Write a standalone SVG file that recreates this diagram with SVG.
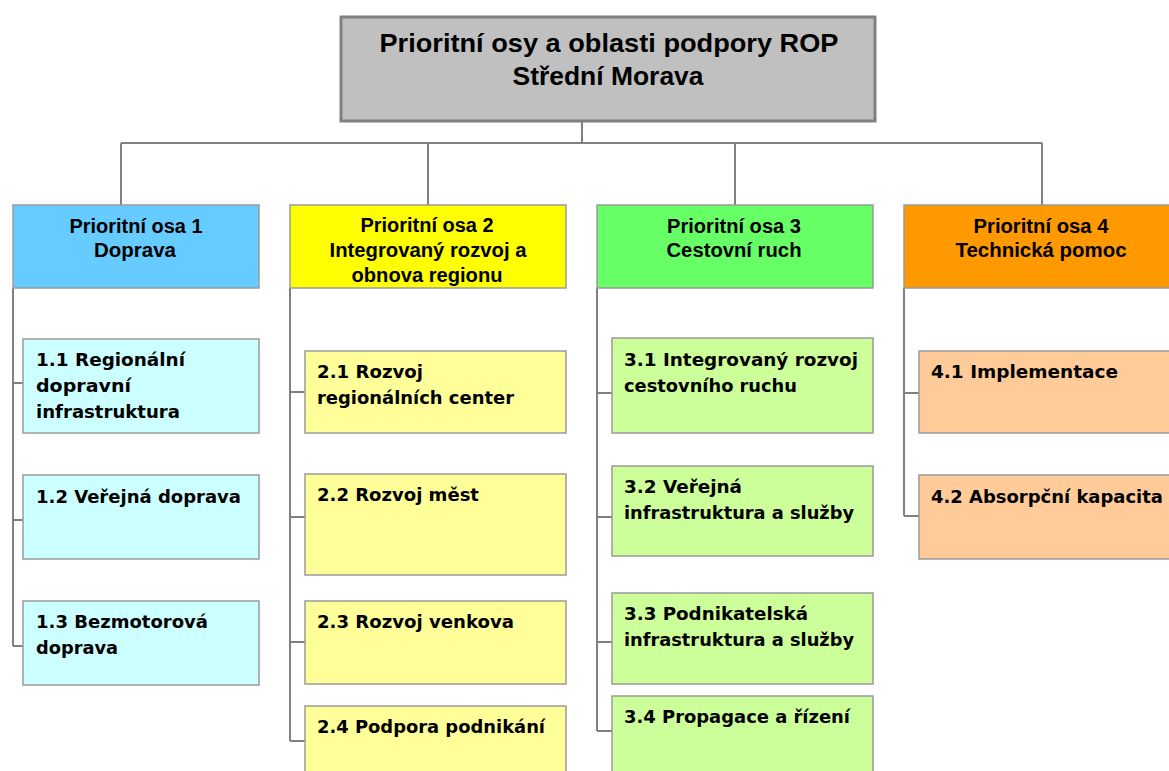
<svg xmlns="http://www.w3.org/2000/svg" width="1169" height="771" viewBox="0 0 1169 771">
<style>
.conn{stroke:#808080;stroke-width:2;fill:none}
.box{stroke:#9a9a9a;stroke-width:1.5}
.t0{font-family:"Liberation Sans",Arial,sans-serif;font-weight:bold;font-size:26px;fill:#000;text-anchor:middle}
.t1{font-family:"Liberation Sans",Arial,sans-serif;font-weight:bold;font-size:19.5px;fill:#000;text-anchor:middle}
.t2{font-family:"DejaVu Sans",Verdana,sans-serif;font-weight:bold;font-size:18px;fill:#000}
</style>
<rect width="1169" height="771" fill="#fff"/>
<g id="connectors" class="conn">
<path d="M582 121V143M121 143H1042M121 143V205M428 143V205M735 143V205M1042 143V205"/>
<path d="M13 288V646M13 383H23M13 520H23M13 646H23"/>
<path d="M290 288V741M290 392H305M290 517H305M290 642H305M290 741H305"/>
<path d="M597 288V731M597 393H612M597 517H612M597 642H612M597 731H612"/>
<path d="M904 288V516M904 393H919M904 516H919"/>
</g>
<g id="root">
<rect x="341" y="17" width="534" height="104" fill="#c0c0c0" stroke="#808080" stroke-width="3"/>
<text class="t0" x="609" y="52" textLength="459" lengthAdjust="spacingAndGlyphs">Prioritní osy a oblasti podpory ROP</text>
<text class="t0" x="608" y="85" textLength="191" lengthAdjust="spacingAndGlyphs">Střední Morava</text>
</g>
<g id="axis1">
<rect class="box" x="13" y="205" width="246" height="83" fill="#66ccff"/>
<text class="t1" x="136" y="233" textLength="133" lengthAdjust="spacingAndGlyphs">Prioritní osa 1</text>
<text class="t1" x="135" y="257" textLength="82" lengthAdjust="spacingAndGlyphs">Doprava</text>
</g>
<g id="axis2">
<rect class="box" x="290" y="205" width="276" height="83" fill="#ffff00"/>
<text class="t1" x="427" y="232" textLength="133" lengthAdjust="spacingAndGlyphs">Prioritní osa 2</text>
<text class="t1" x="428" y="257" textLength="197" lengthAdjust="spacingAndGlyphs">Integrovaný rozvoj a</text>
<text class="t1" x="427" y="282" textLength="151" lengthAdjust="spacingAndGlyphs">obnova regionu</text>
</g>
<g id="axis3">
<rect class="box" x="597" y="205" width="276" height="83" fill="#66ff66"/>
<text class="t1" x="734" y="233" textLength="134" lengthAdjust="spacingAndGlyphs">Prioritní osa 3</text>
<text class="t1" x="734" y="257" textLength="135" lengthAdjust="spacingAndGlyphs">Cestovní ruch</text>
</g>
<g id="axis4">
<rect class="box" x="904" y="205" width="276" height="83" fill="#ff9900"/>
<text class="t1" x="1041" y="233" textLength="135" lengthAdjust="spacingAndGlyphs">Prioritní osa 4</text>
<text class="t1" x="1041" y="257" textLength="171" lengthAdjust="spacingAndGlyphs">Technická pomoc</text>
</g>
<g id="n1-1">
<rect class="box" x="23" y="339" width="236" height="94" fill="#ccffff"/>
<text class="t2" x="36" y="366" textLength="149" lengthAdjust="spacingAndGlyphs">1.1 Regionální</text>
<text class="t2" x="36" y="392" textLength="95" lengthAdjust="spacingAndGlyphs">dopravní</text>
<text class="t2" x="36" y="418" textLength="144" lengthAdjust="spacingAndGlyphs">infrastruktura</text>
</g>
<g id="n1-2">
<rect class="box" x="23" y="475" width="236" height="84" fill="#ccffff"/>
<text class="t2" x="36" y="503" textLength="205" lengthAdjust="spacingAndGlyphs">1.2 Veřejná doprava</text>
</g>
<g id="n1-3">
<rect class="box" x="23" y="601" width="236" height="84" fill="#ccffff"/>
<text class="t2" x="36" y="628" textLength="172" lengthAdjust="spacingAndGlyphs">1.3 Bezmotorová</text>
<text class="t2" x="36" y="654" textLength="82" lengthAdjust="spacingAndGlyphs">doprava</text>
</g>
<g id="n2-1">
<rect class="box" x="305" y="351" width="261" height="82" fill="#ffff99"/>
<text class="t2" x="317" y="378" textLength="106" lengthAdjust="spacingAndGlyphs">2.1 Rozvoj</text>
<text class="t2" x="317" y="404" textLength="197" lengthAdjust="spacingAndGlyphs">regionálních center</text>
</g>
<g id="n2-2">
<rect class="box" x="305" y="474" width="261" height="101" fill="#ffff99"/>
<text class="t2" x="317" y="501" textLength="162" lengthAdjust="spacingAndGlyphs">2.2 Rozvoj měst</text>
</g>
<g id="n2-3">
<rect class="box" x="305" y="601" width="261" height="83" fill="#ffff99"/>
<text class="t2" x="317" y="628" textLength="197" lengthAdjust="spacingAndGlyphs">2.3 Rozvoj venkova</text>
</g>
<g id="n2-4">
<rect class="box" x="305" y="706" width="261" height="90" fill="#ffff99"/>
<text class="t2" x="317" y="733" textLength="228" lengthAdjust="spacingAndGlyphs">2.4 Podpora podnikání</text>
</g>
<g id="n3-1">
<rect class="box" x="612" y="338" width="261" height="95" fill="#ccff99"/>
<text class="t2" x="624" y="366" textLength="234" lengthAdjust="spacingAndGlyphs">3.1 Integrovaný rozvoj</text>
<text class="t2" x="624" y="392" textLength="173" lengthAdjust="spacingAndGlyphs">cestovního ruchu</text>
</g>
<g id="n3-2">
<rect class="box" x="612" y="466" width="261" height="90" fill="#ccff99"/>
<text class="t2" x="624" y="493" textLength="118" lengthAdjust="spacingAndGlyphs">3.2 Veřejná</text>
<text class="t2" x="624" y="519" textLength="230" lengthAdjust="spacingAndGlyphs">infrastruktura a služby</text>
</g>
<g id="n3-3">
<rect class="box" x="612" y="593" width="261" height="91" fill="#ccff99"/>
<text class="t2" x="624" y="620" textLength="184" lengthAdjust="spacingAndGlyphs">3.3 Podnikatelská</text>
<text class="t2" x="624" y="646" textLength="230" lengthAdjust="spacingAndGlyphs">infrastruktura a služby</text>
</g>
<g id="n3-4">
<rect class="box" x="612" y="696" width="261" height="100" fill="#ccff99"/>
<text class="t2" x="624" y="723" textLength="226" lengthAdjust="spacingAndGlyphs">3.4 Propagace a řízení</text>
</g>
<g id="n4-1">
<rect class="box" x="919" y="351" width="261" height="82" fill="#ffcc99"/>
<text class="t2" x="931" y="378" textLength="187" lengthAdjust="spacingAndGlyphs">4.1 Implementace</text>
</g>
<g id="n4-2">
<rect class="box" x="919" y="475" width="261" height="84" fill="#ffcc99"/>
<text class="t2" x="931" y="503" textLength="232" lengthAdjust="spacingAndGlyphs">4.2 Absorpční kapacita</text>
</g>
</svg>
